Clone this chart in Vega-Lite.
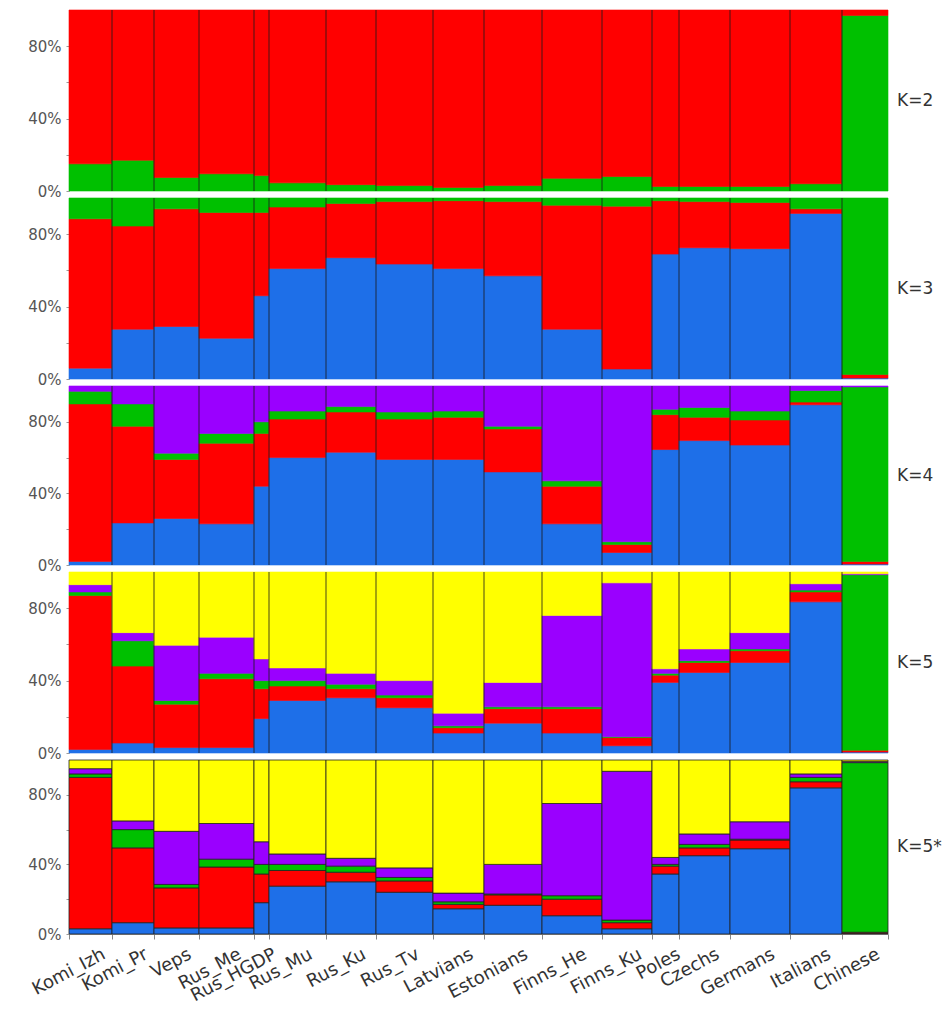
{
  "$schema": "https://vega.github.io/schema/vega-lite/v6.json",
  "background": "white",
  "padding": {"left": 27, "top": 9, "right": 5, "bottom": 5},
  "spacing": 7,
  "bounds": "flush",
  "config": {
    "view": {"stroke": null},
    "axis": {"grid": false, "title": null},
    "axisY": {"domainColor": "#999999", "tickColor": "#999999", "tickSize": 3, "labelFont": "DejaVu Sans", "labelFontSize": 15, "labelColor": "#555555", "labelPadding": 5},
    "text": {"font": "DejaVu Sans", "fontSize": 17, "color": "#333333", "align": "left", "baseline": "middle", "dx": 9}
  },
  "datasets": {
    "pops": [
      {"p": "Komi_Izh", "s": 0, "e": 43},
      {"p": "Komi_Pr", "s": 43, "e": 85},
      {"p": "Veps", "s": 85, "e": 130},
      {"p": "Rus_Me", "s": 130, "e": 185},
      {"p": "Rus_HGDP", "s": 185, "e": 200},
      {"p": "Rus_Mu", "s": 200, "e": 257},
      {"p": "Rus_Ku", "s": 257, "e": 307},
      {"p": "Rus_Tv", "s": 307, "e": 364},
      {"p": "Latvians", "s": 364, "e": 415},
      {"p": "Estonians", "s": 415, "e": 473},
      {"p": "Finns_He", "s": 473, "e": 533},
      {"p": "Finns_Ku", "s": 533, "e": 583},
      {"p": "Poles", "s": 583, "e": 610},
      {"p": "Czechs", "s": 610, "e": 661},
      {"p": "Germans", "s": 661, "e": 721},
      {"p": "Italians", "s": 721, "e": 773},
      {"p": "Chinese", "s": 773, "e": 819}
    ],
    "q": [
      {"K": "2", "p": "Komi_Izh", "c": "green", "o": 1, "v": 0.15}, {"K": "2", "p": "Komi_Izh", "c": "red", "o": 2, "v": 0.85},
      {"K": "2", "p": "Komi_Pr", "c": "green", "o": 1, "v": 0.17}, {"K": "2", "p": "Komi_Pr", "c": "red", "o": 2, "v": 0.83},
      {"K": "2", "p": "Veps", "c": "green", "o": 1, "v": 0.075}, {"K": "2", "p": "Veps", "c": "red", "o": 2, "v": 0.925},
      {"K": "2", "p": "Rus_Me", "c": "green", "o": 1, "v": 0.095}, {"K": "2", "p": "Rus_Me", "c": "red", "o": 2, "v": 0.905},
      {"K": "2", "p": "Rus_HGDP", "c": "green", "o": 1, "v": 0.085}, {"K": "2", "p": "Rus_HGDP", "c": "red", "o": 2, "v": 0.915},
      {"K": "2", "p": "Rus_Mu", "c": "green", "o": 1, "v": 0.045}, {"K": "2", "p": "Rus_Mu", "c": "red", "o": 2, "v": 0.955},
      {"K": "2", "p": "Rus_Ku", "c": "green", "o": 1, "v": 0.035}, {"K": "2", "p": "Rus_Ku", "c": "red", "o": 2, "v": 0.965},
      {"K": "2", "p": "Rus_Tv", "c": "green", "o": 1, "v": 0.03}, {"K": "2", "p": "Rus_Tv", "c": "red", "o": 2, "v": 0.97},
      {"K": "2", "p": "Latvians", "c": "green", "o": 1, "v": 0.02}, {"K": "2", "p": "Latvians", "c": "red", "o": 2, "v": 0.98},
      {"K": "2", "p": "Estonians", "c": "green", "o": 1, "v": 0.03}, {"K": "2", "p": "Estonians", "c": "red", "o": 2, "v": 0.97},
      {"K": "2", "p": "Finns_He", "c": "green", "o": 1, "v": 0.07}, {"K": "2", "p": "Finns_He", "c": "red", "o": 2, "v": 0.93},
      {"K": "2", "p": "Finns_Ku", "c": "green", "o": 1, "v": 0.08}, {"K": "2", "p": "Finns_Ku", "c": "red", "o": 2, "v": 0.92},
      {"K": "2", "p": "Poles", "c": "green", "o": 1, "v": 0.025}, {"K": "2", "p": "Poles", "c": "red", "o": 2, "v": 0.975},
      {"K": "2", "p": "Czechs", "c": "green", "o": 1, "v": 0.025}, {"K": "2", "p": "Czechs", "c": "red", "o": 2, "v": 0.975},
      {"K": "2", "p": "Germans", "c": "green", "o": 1, "v": 0.025}, {"K": "2", "p": "Germans", "c": "red", "o": 2, "v": 0.975},
      {"K": "2", "p": "Italians", "c": "green", "o": 1, "v": 0.04}, {"K": "2", "p": "Italians", "c": "red", "o": 2, "v": 0.96},
      {"K": "2", "p": "Chinese", "c": "green", "o": 1, "v": 0.97}, {"K": "2", "p": "Chinese", "c": "red", "o": 2, "v": 0.03},

      {"K": "3", "p": "Komi_Izh", "c": "blue", "o": 1, "v": 0.06}, {"K": "3", "p": "Komi_Izh", "c": "red", "o": 2, "v": 0.825}, {"K": "3", "p": "Komi_Izh", "c": "green", "o": 3, "v": 0.115},
      {"K": "3", "p": "Komi_Pr", "c": "blue", "o": 1, "v": 0.275}, {"K": "3", "p": "Komi_Pr", "c": "red", "o": 2, "v": 0.57}, {"K": "3", "p": "Komi_Pr", "c": "green", "o": 3, "v": 0.155},
      {"K": "3", "p": "Veps", "c": "blue", "o": 1, "v": 0.29}, {"K": "3", "p": "Veps", "c": "red", "o": 2, "v": 0.65}, {"K": "3", "p": "Veps", "c": "green", "o": 3, "v": 0.06},
      {"K": "3", "p": "Rus_Me", "c": "blue", "o": 1, "v": 0.225}, {"K": "3", "p": "Rus_Me", "c": "red", "o": 2, "v": 0.695}, {"K": "3", "p": "Rus_Me", "c": "green", "o": 3, "v": 0.08},
      {"K": "3", "p": "Rus_HGDP", "c": "blue", "o": 1, "v": 0.46}, {"K": "3", "p": "Rus_HGDP", "c": "red", "o": 2, "v": 0.46}, {"K": "3", "p": "Rus_HGDP", "c": "green", "o": 3, "v": 0.08},
      {"K": "3", "p": "Rus_Mu", "c": "blue", "o": 1, "v": 0.61}, {"K": "3", "p": "Rus_Mu", "c": "red", "o": 2, "v": 0.34}, {"K": "3", "p": "Rus_Mu", "c": "green", "o": 3, "v": 0.05},
      {"K": "3", "p": "Rus_Ku", "c": "blue", "o": 1, "v": 0.67}, {"K": "3", "p": "Rus_Ku", "c": "red", "o": 2, "v": 0.30}, {"K": "3", "p": "Rus_Ku", "c": "green", "o": 3, "v": 0.03},
      {"K": "3", "p": "Rus_Tv", "c": "blue", "o": 1, "v": 0.635}, {"K": "3", "p": "Rus_Tv", "c": "red", "o": 2, "v": 0.345}, {"K": "3", "p": "Rus_Tv", "c": "green", "o": 3, "v": 0.02},
      {"K": "3", "p": "Latvians", "c": "blue", "o": 1, "v": 0.61}, {"K": "3", "p": "Latvians", "c": "red", "o": 2, "v": 0.375}, {"K": "3", "p": "Latvians", "c": "green", "o": 3, "v": 0.015},
      {"K": "3", "p": "Estonians", "c": "blue", "o": 1, "v": 0.57}, {"K": "3", "p": "Estonians", "c": "red", "o": 2, "v": 0.41}, {"K": "3", "p": "Estonians", "c": "green", "o": 3, "v": 0.02},
      {"K": "3", "p": "Finns_He", "c": "blue", "o": 1, "v": 0.275}, {"K": "3", "p": "Finns_He", "c": "red", "o": 2, "v": 0.685}, {"K": "3", "p": "Finns_He", "c": "green", "o": 3, "v": 0.04},
      {"K": "3", "p": "Finns_Ku", "c": "blue", "o": 1, "v": 0.055}, {"K": "3", "p": "Finns_Ku", "c": "red", "o": 2, "v": 0.90}, {"K": "3", "p": "Finns_Ku", "c": "green", "o": 3, "v": 0.045},
      {"K": "3", "p": "Poles", "c": "blue", "o": 1, "v": 0.69}, {"K": "3", "p": "Poles", "c": "red", "o": 2, "v": 0.295}, {"K": "3", "p": "Poles", "c": "green", "o": 3, "v": 0.015},
      {"K": "3", "p": "Czechs", "c": "blue", "o": 1, "v": 0.725}, {"K": "3", "p": "Czechs", "c": "red", "o": 2, "v": 0.255}, {"K": "3", "p": "Czechs", "c": "green", "o": 3, "v": 0.02},
      {"K": "3", "p": "Germans", "c": "blue", "o": 1, "v": 0.72}, {"K": "3", "p": "Germans", "c": "red", "o": 2, "v": 0.255}, {"K": "3", "p": "Germans", "c": "green", "o": 3, "v": 0.025},
      {"K": "3", "p": "Italians", "c": "blue", "o": 1, "v": 0.915}, {"K": "3", "p": "Italians", "c": "red", "o": 2, "v": 0.025}, {"K": "3", "p": "Italians", "c": "green", "o": 3, "v": 0.06},
      {"K": "3", "p": "Chinese", "c": "blue", "o": 1, "v": 0.005}, {"K": "3", "p": "Chinese", "c": "red", "o": 2, "v": 0.02}, {"K": "3", "p": "Chinese", "c": "green", "o": 3, "v": 0.975},

      {"K": "4", "p": "Komi_Izh", "c": "blue", "o": 1, "v": 0.02}, {"K": "4", "p": "Komi_Izh", "c": "red", "o": 2, "v": 0.88}, {"K": "4", "p": "Komi_Izh", "c": "green", "o": 3, "v": 0.07}, {"K": "4", "p": "Komi_Izh", "c": "purple", "o": 4, "v": 0.03},
      {"K": "4", "p": "Komi_Pr", "c": "blue", "o": 1, "v": 0.235}, {"K": "4", "p": "Komi_Pr", "c": "red", "o": 2, "v": 0.54}, {"K": "4", "p": "Komi_Pr", "c": "green", "o": 3, "v": 0.125}, {"K": "4", "p": "Komi_Pr", "c": "purple", "o": 4, "v": 0.10},
      {"K": "4", "p": "Veps", "c": "blue", "o": 1, "v": 0.26}, {"K": "4", "p": "Veps", "c": "red", "o": 2, "v": 0.33}, {"K": "4", "p": "Veps", "c": "green", "o": 3, "v": 0.035}, {"K": "4", "p": "Veps", "c": "purple", "o": 4, "v": 0.375},
      {"K": "4", "p": "Rus_Me", "c": "blue", "o": 1, "v": 0.23}, {"K": "4", "p": "Rus_Me", "c": "red", "o": 2, "v": 0.45}, {"K": "4", "p": "Rus_Me", "c": "green", "o": 3, "v": 0.055}, {"K": "4", "p": "Rus_Me", "c": "purple", "o": 4, "v": 0.265},
      {"K": "4", "p": "Rus_HGDP", "c": "blue", "o": 1, "v": 0.44}, {"K": "4", "p": "Rus_HGDP", "c": "red", "o": 2, "v": 0.295}, {"K": "4", "p": "Rus_HGDP", "c": "green", "o": 3, "v": 0.065}, {"K": "4", "p": "Rus_HGDP", "c": "purple", "o": 4, "v": 0.20},
      {"K": "4", "p": "Rus_Mu", "c": "blue", "o": 1, "v": 0.60}, {"K": "4", "p": "Rus_Mu", "c": "red", "o": 2, "v": 0.215}, {"K": "4", "p": "Rus_Mu", "c": "green", "o": 3, "v": 0.045}, {"K": "4", "p": "Rus_Mu", "c": "purple", "o": 4, "v": 0.14},
      {"K": "4", "p": "Rus_Ku", "c": "blue", "o": 1, "v": 0.63}, {"K": "4", "p": "Rus_Ku", "c": "red", "o": 2, "v": 0.225}, {"K": "4", "p": "Rus_Ku", "c": "green", "o": 3, "v": 0.03}, {"K": "4", "p": "Rus_Ku", "c": "purple", "o": 4, "v": 0.115},
      {"K": "4", "p": "Rus_Tv", "c": "blue", "o": 1, "v": 0.59}, {"K": "4", "p": "Rus_Tv", "c": "red", "o": 2, "v": 0.225}, {"K": "4", "p": "Rus_Tv", "c": "green", "o": 3, "v": 0.04}, {"K": "4", "p": "Rus_Tv", "c": "purple", "o": 4, "v": 0.145},
      {"K": "4", "p": "Latvians", "c": "blue", "o": 1, "v": 0.59}, {"K": "4", "p": "Latvians", "c": "red", "o": 2, "v": 0.235}, {"K": "4", "p": "Latvians", "c": "green", "o": 3, "v": 0.035}, {"K": "4", "p": "Latvians", "c": "purple", "o": 4, "v": 0.14},
      {"K": "4", "p": "Estonians", "c": "blue", "o": 1, "v": 0.52}, {"K": "4", "p": "Estonians", "c": "red", "o": 2, "v": 0.24}, {"K": "4", "p": "Estonians", "c": "green", "o": 3, "v": 0.015}, {"K": "4", "p": "Estonians", "c": "purple", "o": 4, "v": 0.225},
      {"K": "4", "p": "Finns_He", "c": "blue", "o": 1, "v": 0.23}, {"K": "4", "p": "Finns_He", "c": "red", "o": 2, "v": 0.21}, {"K": "4", "p": "Finns_He", "c": "green", "o": 3, "v": 0.03}, {"K": "4", "p": "Finns_He", "c": "purple", "o": 4, "v": 0.53},
      {"K": "4", "p": "Finns_Ku", "c": "blue", "o": 1, "v": 0.07}, {"K": "4", "p": "Finns_Ku", "c": "red", "o": 2, "v": 0.045}, {"K": "4", "p": "Finns_Ku", "c": "green", "o": 3, "v": 0.015}, {"K": "4", "p": "Finns_Ku", "c": "purple", "o": 4, "v": 0.87},
      {"K": "4", "p": "Poles", "c": "blue", "o": 1, "v": 0.645}, {"K": "4", "p": "Poles", "c": "red", "o": 2, "v": 0.195}, {"K": "4", "p": "Poles", "c": "green", "o": 3, "v": 0.03}, {"K": "4", "p": "Poles", "c": "purple", "o": 4, "v": 0.13},
      {"K": "4", "p": "Czechs", "c": "blue", "o": 1, "v": 0.695}, {"K": "4", "p": "Czechs", "c": "red", "o": 2, "v": 0.13}, {"K": "4", "p": "Czechs", "c": "green", "o": 3, "v": 0.055}, {"K": "4", "p": "Czechs", "c": "purple", "o": 4, "v": 0.12},
      {"K": "4", "p": "Germans", "c": "blue", "o": 1, "v": 0.67}, {"K": "4", "p": "Germans", "c": "red", "o": 2, "v": 0.14}, {"K": "4", "p": "Germans", "c": "green", "o": 3, "v": 0.05}, {"K": "4", "p": "Germans", "c": "purple", "o": 4, "v": 0.14},
      {"K": "4", "p": "Italians", "c": "blue", "o": 1, "v": 0.895}, {"K": "4", "p": "Italians", "c": "red", "o": 2, "v": 0.015}, {"K": "4", "p": "Italians", "c": "green", "o": 3, "v": 0.065}, {"K": "4", "p": "Italians", "c": "purple", "o": 4, "v": 0.025},
      {"K": "4", "p": "Chinese", "c": "blue", "o": 1, "v": 0.005}, {"K": "4", "p": "Chinese", "c": "red", "o": 2, "v": 0.015}, {"K": "4", "p": "Chinese", "c": "green", "o": 3, "v": 0.975}, {"K": "4", "p": "Chinese", "c": "purple", "o": 4, "v": 0.005},

      {"K": "5", "p": "Komi_Izh", "c": "blue", "o": 1, "v": 0.02}, {"K": "5", "p": "Komi_Izh", "c": "red", "o": 2, "v": 0.85}, {"K": "5", "p": "Komi_Izh", "c": "green", "o": 3, "v": 0.02}, {"K": "5", "p": "Komi_Izh", "c": "purple", "o": 4, "v": 0.04}, {"K": "5", "p": "Komi_Izh", "c": "yellow", "o": 5, "v": 0.07},
      {"K": "5", "p": "Komi_Pr", "c": "blue", "o": 1, "v": 0.055}, {"K": "5", "p": "Komi_Pr", "c": "red", "o": 2, "v": 0.425}, {"K": "5", "p": "Komi_Pr", "c": "green", "o": 3, "v": 0.14}, {"K": "5", "p": "Komi_Pr", "c": "purple", "o": 4, "v": 0.045}, {"K": "5", "p": "Komi_Pr", "c": "yellow", "o": 5, "v": 0.335},
      {"K": "5", "p": "Veps", "c": "blue", "o": 1, "v": 0.03}, {"K": "5", "p": "Veps", "c": "red", "o": 2, "v": 0.24}, {"K": "5", "p": "Veps", "c": "green", "o": 3, "v": 0.02}, {"K": "5", "p": "Veps", "c": "purple", "o": 4, "v": 0.305}, {"K": "5", "p": "Veps", "c": "yellow", "o": 5, "v": 0.405},
      {"K": "5", "p": "Rus_Me", "c": "blue", "o": 1, "v": 0.03}, {"K": "5", "p": "Rus_Me", "c": "red", "o": 2, "v": 0.38}, {"K": "5", "p": "Rus_Me", "c": "green", "o": 3, "v": 0.03}, {"K": "5", "p": "Rus_Me", "c": "purple", "o": 4, "v": 0.20}, {"K": "5", "p": "Rus_Me", "c": "yellow", "o": 5, "v": 0.36},
      {"K": "5", "p": "Rus_HGDP", "c": "blue", "o": 1, "v": 0.19}, {"K": "5", "p": "Rus_HGDP", "c": "red", "o": 2, "v": 0.165}, {"K": "5", "p": "Rus_HGDP", "c": "green", "o": 3, "v": 0.045}, {"K": "5", "p": "Rus_HGDP", "c": "purple", "o": 4, "v": 0.12}, {"K": "5", "p": "Rus_HGDP", "c": "yellow", "o": 5, "v": 0.48},
      {"K": "5", "p": "Rus_Mu", "c": "blue", "o": 1, "v": 0.29}, {"K": "5", "p": "Rus_Mu", "c": "red", "o": 2, "v": 0.08}, {"K": "5", "p": "Rus_Mu", "c": "green", "o": 3, "v": 0.03}, {"K": "5", "p": "Rus_Mu", "c": "purple", "o": 4, "v": 0.07}, {"K": "5", "p": "Rus_Mu", "c": "yellow", "o": 5, "v": 0.53},
      {"K": "5", "p": "Rus_Ku", "c": "blue", "o": 1, "v": 0.305}, {"K": "5", "p": "Rus_Ku", "c": "red", "o": 2, "v": 0.05}, {"K": "5", "p": "Rus_Ku", "c": "green", "o": 3, "v": 0.025}, {"K": "5", "p": "Rus_Ku", "c": "purple", "o": 4, "v": 0.06}, {"K": "5", "p": "Rus_Ku", "c": "yellow", "o": 5, "v": 0.56},
      {"K": "5", "p": "Rus_Tv", "c": "blue", "o": 1, "v": 0.25}, {"K": "5", "p": "Rus_Tv", "c": "red", "o": 2, "v": 0.055}, {"K": "5", "p": "Rus_Tv", "c": "green", "o": 3, "v": 0.015}, {"K": "5", "p": "Rus_Tv", "c": "purple", "o": 4, "v": 0.08}, {"K": "5", "p": "Rus_Tv", "c": "yellow", "o": 5, "v": 0.60},
      {"K": "5", "p": "Latvians", "c": "blue", "o": 1, "v": 0.11}, {"K": "5", "p": "Latvians", "c": "red", "o": 2, "v": 0.03}, {"K": "5", "p": "Latvians", "c": "green", "o": 3, "v": 0.01}, {"K": "5", "p": "Latvians", "c": "purple", "o": 4, "v": 0.07}, {"K": "5", "p": "Latvians", "c": "yellow", "o": 5, "v": 0.78},
      {"K": "5", "p": "Estonians", "c": "blue", "o": 1, "v": 0.165}, {"K": "5", "p": "Estonians", "c": "red", "o": 2, "v": 0.08}, {"K": "5", "p": "Estonians", "c": "green", "o": 3, "v": 0.01}, {"K": "5", "p": "Estonians", "c": "purple", "o": 4, "v": 0.135}, {"K": "5", "p": "Estonians", "c": "yellow", "o": 5, "v": 0.61},
      {"K": "5", "p": "Finns_He", "c": "blue", "o": 1, "v": 0.11}, {"K": "5", "p": "Finns_He", "c": "red", "o": 2, "v": 0.135}, {"K": "5", "p": "Finns_He", "c": "green", "o": 3, "v": 0.01}, {"K": "5", "p": "Finns_He", "c": "purple", "o": 4, "v": 0.505}, {"K": "5", "p": "Finns_He", "c": "yellow", "o": 5, "v": 0.24},
      {"K": "5", "p": "Finns_Ku", "c": "blue", "o": 1, "v": 0.04}, {"K": "5", "p": "Finns_Ku", "c": "red", "o": 2, "v": 0.045}, {"K": "5", "p": "Finns_Ku", "c": "green", "o": 3, "v": 0.005}, {"K": "5", "p": "Finns_Ku", "c": "purple", "o": 4, "v": 0.85}, {"K": "5", "p": "Finns_Ku", "c": "yellow", "o": 5, "v": 0.06},
      {"K": "5", "p": "Poles", "c": "blue", "o": 1, "v": 0.39}, {"K": "5", "p": "Poles", "c": "red", "o": 2, "v": 0.04}, {"K": "5", "p": "Poles", "c": "green", "o": 3, "v": 0.01}, {"K": "5", "p": "Poles", "c": "purple", "o": 4, "v": 0.025}, {"K": "5", "p": "Poles", "c": "yellow", "o": 5, "v": 0.535},
      {"K": "5", "p": "Czechs", "c": "blue", "o": 1, "v": 0.445}, {"K": "5", "p": "Czechs", "c": "red", "o": 2, "v": 0.055}, {"K": "5", "p": "Czechs", "c": "green", "o": 3, "v": 0.01}, {"K": "5", "p": "Czechs", "c": "purple", "o": 4, "v": 0.065}, {"K": "5", "p": "Czechs", "c": "yellow", "o": 5, "v": 0.425},
      {"K": "5", "p": "Germans", "c": "blue", "o": 1, "v": 0.50}, {"K": "5", "p": "Germans", "c": "red", "o": 2, "v": 0.065}, {"K": "5", "p": "Germans", "c": "green", "o": 3, "v": 0.01}, {"K": "5", "p": "Germans", "c": "purple", "o": 4, "v": 0.09}, {"K": "5", "p": "Germans", "c": "yellow", "o": 5, "v": 0.335},
      {"K": "5", "p": "Italians", "c": "blue", "o": 1, "v": 0.835}, {"K": "5", "p": "Italians", "c": "red", "o": 2, "v": 0.055}, {"K": "5", "p": "Italians", "c": "green", "o": 3, "v": 0.01}, {"K": "5", "p": "Italians", "c": "purple", "o": 4, "v": 0.035}, {"K": "5", "p": "Italians", "c": "yellow", "o": 5, "v": 0.065},
      {"K": "5", "p": "Chinese", "c": "blue", "o": 1, "v": 0.005}, {"K": "5", "p": "Chinese", "c": "red", "o": 2, "v": 0.01}, {"K": "5", "p": "Chinese", "c": "green", "o": 3, "v": 0.97}, {"K": "5", "p": "Chinese", "c": "purple", "o": 4, "v": 0.005}, {"K": "5", "p": "Chinese", "c": "yellow", "o": 5, "v": 0.01},

      {"K": "5*", "p": "Komi_Izh", "c": "blue", "o": 1, "v": 0.03}, {"K": "5*", "p": "Komi_Izh", "c": "red", "o": 2, "v": 0.87}, {"K": "5*", "p": "Komi_Izh", "c": "green", "o": 3, "v": 0.02}, {"K": "5*", "p": "Komi_Izh", "c": "purple", "o": 4, "v": 0.03}, {"K": "5*", "p": "Komi_Izh", "c": "yellow", "o": 5, "v": 0.05},
      {"K": "5*", "p": "Komi_Pr", "c": "blue", "o": 1, "v": 0.065}, {"K": "5*", "p": "Komi_Pr", "c": "red", "o": 2, "v": 0.43}, {"K": "5*", "p": "Komi_Pr", "c": "green", "o": 3, "v": 0.105}, {"K": "5*", "p": "Komi_Pr", "c": "purple", "o": 4, "v": 0.05}, {"K": "5*", "p": "Komi_Pr", "c": "yellow", "o": 5, "v": 0.35},
      {"K": "5*", "p": "Veps", "c": "blue", "o": 1, "v": 0.035}, {"K": "5*", "p": "Veps", "c": "red", "o": 2, "v": 0.23}, {"K": "5*", "p": "Veps", "c": "green", "o": 3, "v": 0.02}, {"K": "5*", "p": "Veps", "c": "purple", "o": 4, "v": 0.305}, {"K": "5*", "p": "Veps", "c": "yellow", "o": 5, "v": 0.41},
      {"K": "5*", "p": "Rus_Me", "c": "blue", "o": 1, "v": 0.035}, {"K": "5*", "p": "Rus_Me", "c": "red", "o": 2, "v": 0.35}, {"K": "5*", "p": "Rus_Me", "c": "green", "o": 3, "v": 0.045}, {"K": "5*", "p": "Rus_Me", "c": "purple", "o": 4, "v": 0.205}, {"K": "5*", "p": "Rus_Me", "c": "yellow", "o": 5, "v": 0.365},
      {"K": "5*", "p": "Rus_HGDP", "c": "blue", "o": 1, "v": 0.18}, {"K": "5*", "p": "Rus_HGDP", "c": "red", "o": 2, "v": 0.165}, {"K": "5*", "p": "Rus_HGDP", "c": "green", "o": 3, "v": 0.055}, {"K": "5*", "p": "Rus_HGDP", "c": "purple", "o": 4, "v": 0.13}, {"K": "5*", "p": "Rus_HGDP", "c": "yellow", "o": 5, "v": 0.47},
      {"K": "5*", "p": "Rus_Mu", "c": "blue", "o": 1, "v": 0.275}, {"K": "5*", "p": "Rus_Mu", "c": "red", "o": 2, "v": 0.09}, {"K": "5*", "p": "Rus_Mu", "c": "green", "o": 3, "v": 0.035}, {"K": "5*", "p": "Rus_Mu", "c": "purple", "o": 4, "v": 0.06}, {"K": "5*", "p": "Rus_Mu", "c": "yellow", "o": 5, "v": 0.54},
      {"K": "5*", "p": "Rus_Ku", "c": "blue", "o": 1, "v": 0.30}, {"K": "5*", "p": "Rus_Ku", "c": "red", "o": 2, "v": 0.055}, {"K": "5*", "p": "Rus_Ku", "c": "green", "o": 3, "v": 0.035}, {"K": "5*", "p": "Rus_Ku", "c": "purple", "o": 4, "v": 0.045}, {"K": "5*", "p": "Rus_Ku", "c": "yellow", "o": 5, "v": 0.565},
      {"K": "5*", "p": "Rus_Tv", "c": "blue", "o": 1, "v": 0.24}, {"K": "5*", "p": "Rus_Tv", "c": "red", "o": 2, "v": 0.065}, {"K": "5*", "p": "Rus_Tv", "c": "green", "o": 3, "v": 0.02}, {"K": "5*", "p": "Rus_Tv", "c": "purple", "o": 4, "v": 0.055}, {"K": "5*", "p": "Rus_Tv", "c": "yellow", "o": 5, "v": 0.62},
      {"K": "5*", "p": "Latvians", "c": "blue", "o": 1, "v": 0.145}, {"K": "5*", "p": "Latvians", "c": "red", "o": 2, "v": 0.025}, {"K": "5*", "p": "Latvians", "c": "green", "o": 3, "v": 0.015}, {"K": "5*", "p": "Latvians", "c": "purple", "o": 4, "v": 0.05}, {"K": "5*", "p": "Latvians", "c": "yellow", "o": 5, "v": 0.765},
      {"K": "5*", "p": "Estonians", "c": "blue", "o": 1, "v": 0.165}, {"K": "5*", "p": "Estonians", "c": "red", "o": 2, "v": 0.06}, {"K": "5*", "p": "Estonians", "c": "green", "o": 3, "v": 0.005}, {"K": "5*", "p": "Estonians", "c": "purple", "o": 4, "v": 0.17}, {"K": "5*", "p": "Estonians", "c": "yellow", "o": 5, "v": 0.60},
      {"K": "5*", "p": "Finns_He", "c": "blue", "o": 1, "v": 0.105}, {"K": "5*", "p": "Finns_He", "c": "red", "o": 2, "v": 0.095}, {"K": "5*", "p": "Finns_He", "c": "green", "o": 3, "v": 0.02}, {"K": "5*", "p": "Finns_He", "c": "purple", "o": 4, "v": 0.53}, {"K": "5*", "p": "Finns_He", "c": "yellow", "o": 5, "v": 0.25},
      {"K": "5*", "p": "Finns_Ku", "c": "blue", "o": 1, "v": 0.03}, {"K": "5*", "p": "Finns_Ku", "c": "red", "o": 2, "v": 0.035}, {"K": "5*", "p": "Finns_Ku", "c": "green", "o": 3, "v": 0.015}, {"K": "5*", "p": "Finns_Ku", "c": "purple", "o": 4, "v": 0.855}, {"K": "5*", "p": "Finns_Ku", "c": "yellow", "o": 5, "v": 0.065},
      {"K": "5*", "p": "Poles", "c": "blue", "o": 1, "v": 0.345}, {"K": "5*", "p": "Poles", "c": "red", "o": 2, "v": 0.045}, {"K": "5*", "p": "Poles", "c": "green", "o": 3, "v": 0.01}, {"K": "5*", "p": "Poles", "c": "purple", "o": 4, "v": 0.04}, {"K": "5*", "p": "Poles", "c": "yellow", "o": 5, "v": 0.56},
      {"K": "5*", "p": "Czechs", "c": "blue", "o": 1, "v": 0.45}, {"K": "5*", "p": "Czechs", "c": "red", "o": 2, "v": 0.045}, {"K": "5*", "p": "Czechs", "c": "green", "o": 3, "v": 0.02}, {"K": "5*", "p": "Czechs", "c": "purple", "o": 4, "v": 0.06}, {"K": "5*", "p": "Czechs", "c": "yellow", "o": 5, "v": 0.425},
      {"K": "5*", "p": "Germans", "c": "blue", "o": 1, "v": 0.49}, {"K": "5*", "p": "Germans", "c": "red", "o": 2, "v": 0.05}, {"K": "5*", "p": "Germans", "c": "green", "o": 3, "v": 0.005}, {"K": "5*", "p": "Germans", "c": "purple", "o": 4, "v": 0.10}, {"K": "5*", "p": "Germans", "c": "yellow", "o": 5, "v": 0.355},
      {"K": "5*", "p": "Italians", "c": "blue", "o": 1, "v": 0.84}, {"K": "5*", "p": "Italians", "c": "red", "o": 2, "v": 0.035}, {"K": "5*", "p": "Italians", "c": "green", "o": 3, "v": 0.025}, {"K": "5*", "p": "Italians", "c": "purple", "o": 4, "v": 0.02}, {"K": "5*", "p": "Italians", "c": "yellow", "o": 5, "v": 0.08},
      {"K": "5*", "p": "Chinese", "c": "blue", "o": 1, "v": 0.003}, {"K": "5*", "p": "Chinese", "c": "red", "o": 2, "v": 0.007}, {"K": "5*", "p": "Chinese", "c": "green", "o": 3, "v": 0.975}, {"K": "5*", "p": "Chinese", "c": "purple", "o": 4, "v": 0.007}, {"K": "5*", "p": "Chinese", "c": "yellow", "o": 5, "v": 0.008}
    ]
  },
  "vconcat": [
    {
      "width": 819, "height": 181,
      "layer": [
        {
          "data": {"name": "q"},
          "transform": [
            {"filter": "datum.K == '2'"},
            {"lookup": "p", "from": {"data": {"name": "pops"}, "key": "p", "fields": ["s", "e"]}},
            {"stack": "v", "groupby": ["p"], "sort": [{"field": "o", "order": "ascending"}], "as": ["y0", "y1"]}
          ],
          "mark": {"type": "rect", "strokeWidth": 0.6},
          "encoding": {
            "x": {"field": "s", "type": "quantitative", "scale": {"domain": [0, 819], "nice": false, "zero": false}, "axis": null},
            "x2": {"field": "e"},
            "y": {"field": "y0", "type": "quantitative", "scale": {"domain": [0, 1], "nice": false}, "axis": {"values": [0, 0.2, 0.4, 0.6, 0.8], "labelExpr": "datum.value == 0 || datum.value == 0.4 || datum.value == 0.8 ? format(datum.value, '.0%') : ''"}},
            "y2": {"field": "y1"},
            "color": {"field": "c", "type": "nominal", "scale": {"domain": ["blue", "red", "green", "purple", "yellow"], "range": ["#1E6FE8", "#FF0000", "#00C000", "#9A00FF", "#FFFF00"]}, "legend": null},
            "stroke": {"field": "c", "type": "nominal", "scale": {"domain": ["blue", "red", "green", "purple", "yellow"], "range": ["#1E6FE8", "#FF0000", "#00C000", "#9A00FF", "#FFFF00"]}, "legend": null}
          }
        },
        {
          "data": {"name": "pops"},
          "transform": [{"filter": "datum.s > 0"}],
          "mark": {"type": "rule", "color": "#1a1a1a", "strokeWidth": 1, "opacity": 0.8},
          "encoding": {"x": {"field": "s", "type": "quantitative", "axis": null}}
        },
        {
          "data": {"values": [{"k": "K=2"}]},
          "mark": {"type": "text"},
          "encoding": {"x": {"datum": 819, "type": "quantitative"}, "y": {"datum": 0.5, "type": "quantitative"}, "text": {"field": "k"}}
        }
      ]
    },
    {
      "width": 819, "height": 181,
      "layer": [
        {
          "data": {"name": "q"},
          "transform": [
            {"filter": "datum.K == '3'"},
            {"lookup": "p", "from": {"data": {"name": "pops"}, "key": "p", "fields": ["s", "e"]}},
            {"stack": "v", "groupby": ["p"], "sort": [{"field": "o", "order": "ascending"}], "as": ["y0", "y1"]}
          ],
          "mark": {"type": "rect", "strokeWidth": 0.6},
          "encoding": {
            "x": {"field": "s", "type": "quantitative", "scale": {"domain": [0, 819], "nice": false, "zero": false}, "axis": null},
            "x2": {"field": "e"},
            "y": {"field": "y0", "type": "quantitative", "scale": {"domain": [0, 1], "nice": false}, "axis": {"values": [0, 0.2, 0.4, 0.6, 0.8], "labelExpr": "datum.value == 0 || datum.value == 0.4 || datum.value == 0.8 ? format(datum.value, '.0%') : ''"}},
            "y2": {"field": "y1"},
            "color": {"field": "c", "type": "nominal", "scale": {"domain": ["blue", "red", "green", "purple", "yellow"], "range": ["#1E6FE8", "#FF0000", "#00C000", "#9A00FF", "#FFFF00"]}, "legend": null},
            "stroke": {"field": "c", "type": "nominal", "scale": {"domain": ["blue", "red", "green", "purple", "yellow"], "range": ["#1E6FE8", "#FF0000", "#00C000", "#9A00FF", "#FFFF00"]}, "legend": null}
          }
        },
        {
          "data": {"name": "pops"},
          "transform": [{"filter": "datum.s > 0"}],
          "mark": {"type": "rule", "color": "#1a1a1a", "strokeWidth": 1, "opacity": 0.8},
          "encoding": {"x": {"field": "s", "type": "quantitative", "axis": null}}
        },
        {
          "data": {"values": [{"k": "K=3"}]},
          "mark": {"type": "text"},
          "encoding": {"x": {"datum": 819, "type": "quantitative"}, "y": {"datum": 0.5, "type": "quantitative"}, "text": {"field": "k"}}
        }
      ]
    },
    {
      "width": 819, "height": 179,
      "layer": [
        {
          "data": {"name": "q"},
          "transform": [
            {"filter": "datum.K == '4'"},
            {"lookup": "p", "from": {"data": {"name": "pops"}, "key": "p", "fields": ["s", "e"]}},
            {"stack": "v", "groupby": ["p"], "sort": [{"field": "o", "order": "ascending"}], "as": ["y0", "y1"]}
          ],
          "mark": {"type": "rect", "strokeWidth": 0.6},
          "encoding": {
            "x": {"field": "s", "type": "quantitative", "scale": {"domain": [0, 819], "nice": false, "zero": false}, "axis": null},
            "x2": {"field": "e"},
            "y": {"field": "y0", "type": "quantitative", "scale": {"domain": [0, 1], "nice": false}, "axis": {"values": [0, 0.2, 0.4, 0.6, 0.8], "labelExpr": "datum.value == 0 || datum.value == 0.4 || datum.value == 0.8 ? format(datum.value, '.0%') : ''"}},
            "y2": {"field": "y1"},
            "color": {"field": "c", "type": "nominal", "scale": {"domain": ["blue", "red", "green", "purple", "yellow"], "range": ["#1E6FE8", "#FF0000", "#00C000", "#9A00FF", "#FFFF00"]}, "legend": null},
            "stroke": {"field": "c", "type": "nominal", "scale": {"domain": ["blue", "red", "green", "purple", "yellow"], "range": ["#1E6FE8", "#FF0000", "#00C000", "#9A00FF", "#FFFF00"]}, "legend": null}
          }
        },
        {
          "data": {"name": "pops"},
          "transform": [{"filter": "datum.s > 0"}],
          "mark": {"type": "rule", "color": "#1a1a1a", "strokeWidth": 1, "opacity": 0.8},
          "encoding": {"x": {"field": "s", "type": "quantitative", "axis": null}}
        },
        {
          "data": {"values": [{"k": "K=4"}]},
          "mark": {"type": "text"},
          "encoding": {"x": {"datum": 819, "type": "quantitative"}, "y": {"datum": 0.5, "type": "quantitative"}, "text": {"field": "k"}}
        }
      ]
    },
    {
      "width": 819, "height": 181,
      "layer": [
        {
          "data": {"name": "q"},
          "transform": [
            {"filter": "datum.K == '5'"},
            {"lookup": "p", "from": {"data": {"name": "pops"}, "key": "p", "fields": ["s", "e"]}},
            {"stack": "v", "groupby": ["p"], "sort": [{"field": "o", "order": "ascending"}], "as": ["y0", "y1"]}
          ],
          "mark": {"type": "rect", "strokeWidth": 0.6},
          "encoding": {
            "x": {"field": "s", "type": "quantitative", "scale": {"domain": [0, 819], "nice": false, "zero": false}, "axis": null},
            "x2": {"field": "e"},
            "y": {"field": "y0", "type": "quantitative", "scale": {"domain": [0, 1], "nice": false}, "axis": {"values": [0, 0.2, 0.4, 0.6, 0.8], "labelExpr": "datum.value == 0 || datum.value == 0.4 || datum.value == 0.8 ? format(datum.value, '.0%') : ''"}},
            "y2": {"field": "y1"},
            "color": {"field": "c", "type": "nominal", "scale": {"domain": ["blue", "red", "green", "purple", "yellow"], "range": ["#1E6FE8", "#FF0000", "#00C000", "#9A00FF", "#FFFF00"]}, "legend": null},
            "stroke": {"field": "c", "type": "nominal", "scale": {"domain": ["blue", "red", "green", "purple", "yellow"], "range": ["#1E6FE8", "#FF0000", "#00C000", "#9A00FF", "#FFFF00"]}, "legend": null}
          }
        },
        {
          "data": {"name": "pops"},
          "transform": [{"filter": "datum.s > 0"}],
          "mark": {"type": "rule", "color": "#1a1a1a", "strokeWidth": 1, "opacity": 0.8},
          "encoding": {"x": {"field": "s", "type": "quantitative", "axis": null}}
        },
        {
          "data": {"values": [{"k": "K=5"}]},
          "mark": {"type": "text"},
          "encoding": {"x": {"datum": 819, "type": "quantitative"}, "y": {"datum": 0.5, "type": "quantitative"}, "text": {"field": "k"}}
        }
      ]
    },
    {
      "width": 819, "height": 174,
      "resolve": {"axis": {"x": "independent"}},
      "layer": [
        {
          "data": {"name": "q"},
          "transform": [
            {"filter": "datum.K == '5*'"},
            {"lookup": "p", "from": {"data": {"name": "pops"}, "key": "p", "fields": ["s", "e"]}},
            {"stack": "v", "groupby": ["p"], "sort": [{"field": "o", "order": "ascending"}], "as": ["y0", "y1"]}
          ],
          "mark": {"type": "rect", "stroke": "#222222", "strokeWidth": 0.8},
          "encoding": {
            "x": {"field": "s", "type": "quantitative", "scale": {"domain": [0, 819], "nice": false, "zero": false},
                  "axis": {"orient": "bottom", "values": [21.5, 64, 107.5, 157.5, 192.5, 228.5, 282, 335.5, 389.5, 444, 503, 558, 596.5, 635.5, 691, 747, 796],
                           "labelExpr": "['Komi_Izh','Komi_Pr','Veps','Rus_Me','Rus_HGDP','Rus_Mu','Rus_Ku','Rus_Tv','Latvians','Estonians','Finns_He','Finns_Ku','Poles','Czechs','Germans','Italians','Chinese'][indexof([21.5, 64, 107.5, 157.5, 192.5, 228.5, 282, 335.5, 389.5, 444, 503, 558, 596.5, 635.5, 691, 747, 796], datum.value)]",
                           "labelAngle": -28, "labelAlign": "right", "labelBaseline": "top", "labelPadding": 11, "labelOffset": 9, "tickSize": 0, "labelOverlap": false, "labelBound": false, "labelFlush": false,
                           "labelFont": "DejaVu Sans", "labelFontSize": 18, "labelColor": "#333333", "domainColor": "#999999"}},
            "x2": {"field": "e"},
            "y": {"field": "y0", "type": "quantitative", "scale": {"domain": [0, 1], "nice": false}, "axis": {"values": [0, 0.2, 0.4, 0.6, 0.8], "labelExpr": "datum.value == 0 || datum.value == 0.4 || datum.value == 0.8 ? format(datum.value, '.0%') : ''"}},
            "y2": {"field": "y1"},
            "color": {"field": "c", "type": "nominal", "scale": {"domain": ["blue", "red", "green", "purple", "yellow"], "range": ["#1E6FE8", "#FF0000", "#00C000", "#9A00FF", "#FFFF00"]}, "legend": null}
          }
        },
        {
          "data": {"name": "pops"},
          "mark": {"type": "rule", "color": "#1a1a1a", "strokeWidth": 1, "opacity": 0},
          "encoding": {"x": {"field": "s", "type": "quantitative", "axis": {"orient": "bottom", "values": [0, 43, 85, 130, 185, 200, 257, 307, 364, 415, 473, 533, 583, 610, 661, 721, 773, 819], "labels": false, "domain": false, "tickSize": 5, "tickColor": "#888888"}}}
        },
        {
          "data": {"values": [{"k": "K=5*"}]},
          "mark": {"type": "text"},
          "encoding": {"x": {"datum": 819, "type": "quantitative", "axis": null}, "y": {"datum": 0.5, "type": "quantitative"}, "text": {"field": "k"}}
        }
      ]
    }
  ]
}
